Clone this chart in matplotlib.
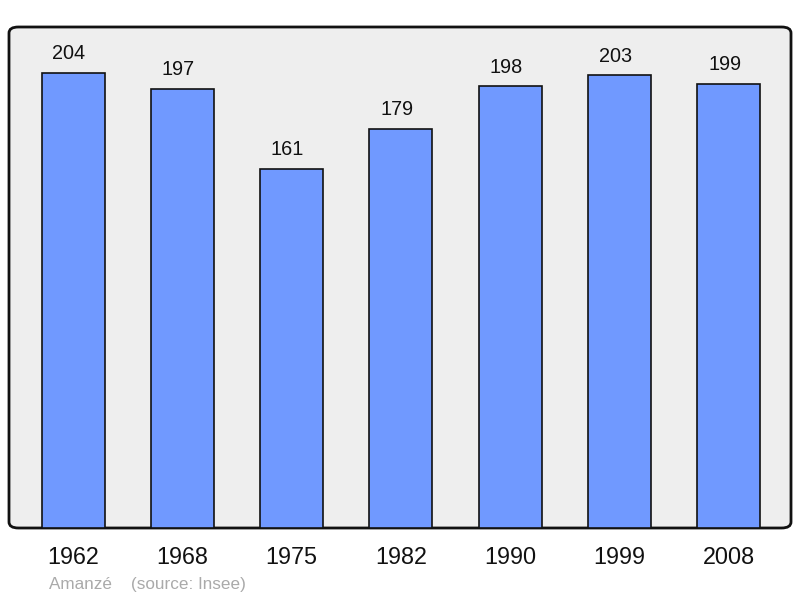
import matplotlib
matplotlib.use("Agg")
import matplotlib.pyplot as plt
from matplotlib.patches import FancyBboxPatch

years = ["1962", "1968", "1975", "1982", "1990", "1999", "2008"]
population = [204, 197, 161, 179, 198, 203, 199]
title_text = "Amanzé    (source: Insee)"

plt.rcParams['font.family'] = ['Liberation Sans', 'DejaVu Sans']

fig = plt.figure(figsize=(8, 5.98), dpi=100)
W, H = 800, 598
ax = fig.add_axes([9 / W, (H - 528) / H, 782 / W, (528 - 27) / H])
ax.set_facecolor('none')

# rounded background frame
frame = FancyBboxPatch((0, 0), 1, 1,
                       boxstyle="round,pad=0,rounding_size=0.012",
                       transform=ax.transAxes, facecolor='#eeeeee',
                       edgecolor='#111111', linewidth=2, zorder=0,
                       clip_on=False)
ax.add_patch(frame)

x = list(range(len(years)))
ax.bar(x, population, width=0.576, color='#7099ff', edgecolor='#111111',
       linewidth=1.2, zorder=2)
for xi, v in zip(x, population):
    ax.annotate(str(v), (xi, v), xytext=(-2.9, 13.8), textcoords='offset points',
                ha='center', va='center', fontsize=14.3, color='#111111')

ax.set_xlim(-0.586, 6.569)
ax.set_ylim(0, 224.6)
ax.set_yticks([])
ax.set_xticks(x)
ax.set_xticklabels(years, fontsize=16.8, color='#111111')
ax.tick_params(axis='x', length=0, pad=13.2)
for s in ax.spines.values():
    s.set_visible(False)

fig.text(49 / W, 1 - 584 / H, title_text, fontsize=12.3, color='#aaaaaa',
         ha='left', va='center')

fig.savefig("out.png", dpi=100)
